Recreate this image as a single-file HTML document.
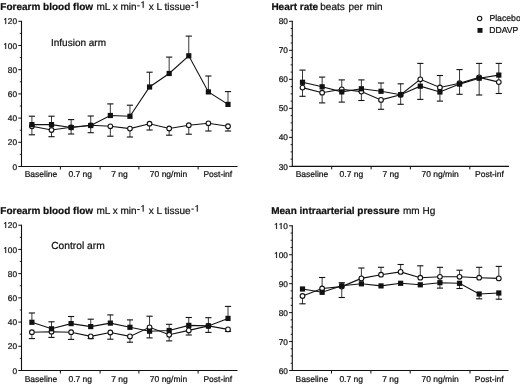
<!DOCTYPE html>
<html><head><meta charset="utf-8"><style>
html,body{margin:0;padding:0;background:#fff;}
body{width:520px;height:385px;overflow:hidden;}
svg{display:block;font-family:"Liberation Sans", sans-serif;filter:blur(0.45px);}
text{fill:#111;text-rendering:geometricPrecision;stroke:#111;stroke-width:0.22px;}
</style></head><body>
<svg width="520" height="385" viewBox="0 0 520 385">
<rect width="520" height="385" fill="#fff"/>
<line x1="21.50" y1="20.80" x2="21.50" y2="167.00" stroke="#111" stroke-width="1.1"/>
<line x1="21.00" y1="166.50" x2="237.50" y2="166.50" stroke="#111" stroke-width="1.1"/>
<line x1="18.30" y1="166.50" x2="21.50" y2="166.50" stroke="#111" stroke-width="1.0"/>
<text transform="translate(12.49,170.00) scale(1,1.0)" font-size="8.3">0</text>
<line x1="19.80" y1="154.40" x2="21.50" y2="154.40" stroke="#111" stroke-width="0.9"/>
<line x1="18.30" y1="142.30" x2="21.50" y2="142.30" stroke="#111" stroke-width="1.0"/>
<text transform="translate(7.87,145.00) scale(1,1.0)" font-size="8.3">2</text>
<text transform="translate(12.49,145.00) scale(1,1.0)" font-size="8.3">0</text>
<line x1="19.80" y1="130.20" x2="21.50" y2="130.20" stroke="#111" stroke-width="0.9"/>
<line x1="18.30" y1="118.10" x2="21.50" y2="118.10" stroke="#111" stroke-width="1.0"/>
<text transform="translate(7.87,121.00) scale(1,1.0)" font-size="8.3">4</text>
<text transform="translate(12.49,121.00) scale(1,1.0)" font-size="8.3">0</text>
<line x1="19.80" y1="106.00" x2="21.50" y2="106.00" stroke="#111" stroke-width="0.9"/>
<line x1="18.30" y1="93.90" x2="21.50" y2="93.90" stroke="#111" stroke-width="1.0"/>
<text transform="translate(7.87,97.00) scale(1,1.0)" font-size="8.3">6</text>
<text transform="translate(12.49,97.00) scale(1,1.0)" font-size="8.3">0</text>
<line x1="19.80" y1="81.80" x2="21.50" y2="81.80" stroke="#111" stroke-width="0.9"/>
<line x1="18.30" y1="69.70" x2="21.50" y2="69.70" stroke="#111" stroke-width="1.0"/>
<text transform="translate(7.87,73.00) scale(1,1.0)" font-size="8.3">8</text>
<text transform="translate(12.49,73.00) scale(1,1.0)" font-size="8.3">0</text>
<line x1="19.80" y1="57.60" x2="21.50" y2="57.60" stroke="#111" stroke-width="0.9"/>
<line x1="18.30" y1="45.50" x2="21.50" y2="45.50" stroke="#111" stroke-width="1.0"/>
<path transform="translate(3.26,49.00) scale(8.3,8.300)" d="M0.345 0L0.345 -0.716L0.272 -0.716C0.25 -0.645 0.18 -0.6 0.09 -0.592L0.09 -0.528C0.16 -0.532 0.22 -0.555 0.25 -0.585L0.25 0Z" fill="#111" stroke="#111" stroke-width="0.0265"/>
<text transform="translate(7.87,49.00) scale(1,1.0)" font-size="8.3">0</text>
<text transform="translate(12.49,49.00) scale(1,1.0)" font-size="8.3">0</text>
<line x1="19.80" y1="33.40" x2="21.50" y2="33.40" stroke="#111" stroke-width="0.9"/>
<line x1="18.30" y1="21.30" x2="21.50" y2="21.30" stroke="#111" stroke-width="1.0"/>
<path transform="translate(3.26,24.00) scale(8.3,8.300)" d="M0.345 0L0.345 -0.716L0.272 -0.716C0.25 -0.645 0.18 -0.6 0.09 -0.592L0.09 -0.528C0.16 -0.532 0.22 -0.555 0.25 -0.585L0.25 0Z" fill="#111" stroke="#111" stroke-width="0.0265"/>
<text transform="translate(7.87,24.00) scale(1,1.0)" font-size="8.3">2</text>
<text transform="translate(12.49,24.00) scale(1,1.0)" font-size="8.3">0</text>
<line x1="60.40" y1="166.50" x2="60.40" y2="169.50" stroke="#111" stroke-width="1.0"/>
<line x1="100.10" y1="166.50" x2="100.10" y2="169.50" stroke="#111" stroke-width="1.0"/>
<line x1="138.90" y1="166.50" x2="138.90" y2="169.50" stroke="#111" stroke-width="1.0"/>
<line x1="198.10" y1="166.50" x2="198.10" y2="169.50" stroke="#111" stroke-width="1.0"/>
<text x="40.95" y="177.20" font-size="8.5" font-weight="normal" text-anchor="middle" >Baseline</text>
<text x="80.25" y="177.20" font-size="8.5" font-weight="normal" text-anchor="middle" >0.7 ng</text>
<text x="119.50" y="177.20" font-size="8.5" font-weight="normal" text-anchor="middle" >7 ng</text>
<text x="168.50" y="177.20" font-size="8.5" font-weight="normal" text-anchor="middle" >70 ng/min</text>
<text x="217.80" y="177.20" font-size="8.5" font-weight="normal" text-anchor="middle" >Post-inf</text>
<line x1="31.90" y1="116.20" x2="31.90" y2="134.80" stroke="#222" stroke-width="0.9"/>
<line x1="28.80" y1="116.20" x2="35.00" y2="116.20" stroke="#111" stroke-width="1.1"/>
<line x1="28.80" y1="134.80" x2="35.00" y2="134.80" stroke="#111" stroke-width="1.1"/>
<line x1="51.51" y1="116.20" x2="51.51" y2="124.60" stroke="#222" stroke-width="0.9"/>
<line x1="51.51" y1="130.00" x2="51.51" y2="136.70" stroke="#222" stroke-width="0.9"/>
<line x1="48.41" y1="136.70" x2="54.61" y2="136.70" stroke="#111" stroke-width="1.1"/>
<line x1="48.41" y1="116.20" x2="54.61" y2="116.20" stroke="#111" stroke-width="1.1"/>
<line x1="71.12" y1="119.60" x2="71.12" y2="134.00" stroke="#222" stroke-width="0.9"/>
<line x1="68.02" y1="134.00" x2="74.22" y2="134.00" stroke="#111" stroke-width="1.1"/>
<line x1="68.02" y1="119.60" x2="74.22" y2="119.60" stroke="#111" stroke-width="1.1"/>
<line x1="90.73" y1="116.00" x2="90.73" y2="132.70" stroke="#222" stroke-width="0.9"/>
<line x1="87.63" y1="132.70" x2="93.83" y2="132.70" stroke="#111" stroke-width="1.1"/>
<line x1="87.63" y1="116.00" x2="93.83" y2="116.00" stroke="#111" stroke-width="1.1"/>
<line x1="110.34" y1="103.90" x2="110.34" y2="115.50" stroke="#222" stroke-width="0.9"/>
<line x1="110.34" y1="126.30" x2="110.34" y2="136.20" stroke="#222" stroke-width="0.9"/>
<line x1="107.24" y1="136.20" x2="113.44" y2="136.20" stroke="#111" stroke-width="1.1"/>
<line x1="107.24" y1="103.90" x2="113.44" y2="103.90" stroke="#111" stroke-width="1.1"/>
<line x1="129.95" y1="105.20" x2="129.95" y2="116.30" stroke="#222" stroke-width="0.9"/>
<line x1="129.95" y1="128.60" x2="129.95" y2="137.00" stroke="#222" stroke-width="0.9"/>
<line x1="126.85" y1="105.20" x2="133.05" y2="105.20" stroke="#111" stroke-width="1.1"/>
<line x1="126.85" y1="137.00" x2="133.05" y2="137.00" stroke="#111" stroke-width="1.1"/>
<line x1="149.56" y1="72.20" x2="149.56" y2="87.00" stroke="#222" stroke-width="0.9"/>
<line x1="149.56" y1="123.70" x2="149.56" y2="130.00" stroke="#222" stroke-width="0.9"/>
<line x1="146.46" y1="72.20" x2="152.66" y2="72.20" stroke="#111" stroke-width="1.1"/>
<line x1="146.46" y1="130.00" x2="152.66" y2="130.00" stroke="#111" stroke-width="1.1"/>
<line x1="169.17" y1="57.10" x2="169.17" y2="73.50" stroke="#222" stroke-width="0.9"/>
<line x1="169.17" y1="128.50" x2="169.17" y2="135.20" stroke="#222" stroke-width="0.9"/>
<line x1="166.07" y1="57.10" x2="172.27" y2="57.10" stroke="#111" stroke-width="1.1"/>
<line x1="166.07" y1="135.20" x2="172.27" y2="135.20" stroke="#111" stroke-width="1.1"/>
<line x1="188.78" y1="36.10" x2="188.78" y2="55.80" stroke="#222" stroke-width="0.9"/>
<line x1="188.78" y1="125.20" x2="188.78" y2="134.20" stroke="#222" stroke-width="0.9"/>
<line x1="185.68" y1="36.10" x2="191.88" y2="36.10" stroke="#111" stroke-width="1.1"/>
<line x1="185.68" y1="134.20" x2="191.88" y2="134.20" stroke="#111" stroke-width="1.1"/>
<line x1="208.39" y1="76.00" x2="208.39" y2="91.90" stroke="#222" stroke-width="0.9"/>
<line x1="208.39" y1="123.30" x2="208.39" y2="131.00" stroke="#222" stroke-width="0.9"/>
<line x1="205.29" y1="131.00" x2="211.49" y2="131.00" stroke="#111" stroke-width="1.1"/>
<line x1="205.29" y1="76.00" x2="211.49" y2="76.00" stroke="#111" stroke-width="1.1"/>
<line x1="228.00" y1="91.60" x2="228.00" y2="104.40" stroke="#222" stroke-width="0.9"/>
<line x1="228.00" y1="126.20" x2="228.00" y2="131.00" stroke="#222" stroke-width="0.9"/>
<line x1="224.90" y1="91.60" x2="231.10" y2="91.60" stroke="#111" stroke-width="1.1"/>
<line x1="224.90" y1="131.00" x2="231.10" y2="131.00" stroke="#111" stroke-width="1.1"/>
<polyline points="31.90,126.30 51.51,130.00 71.12,127.30 90.73,125.30 110.34,126.30 129.95,128.60 149.56,123.70 169.17,128.50 188.78,125.20 208.39,123.30 228.00,126.20" fill="none" stroke="#111" stroke-width="1.1"/>
<polyline points="31.90,124.60 51.51,124.60 71.12,127.50 90.73,125.50 110.34,115.50 129.95,116.30 149.56,87.00 169.17,73.50 188.78,55.80 208.39,91.90 228.00,104.40" fill="none" stroke="#111" stroke-width="1.1"/>
<circle cx="31.90" cy="126.30" r="2.35" fill="#fff" stroke="#111" stroke-width="1.1"/>
<circle cx="51.51" cy="130.00" r="2.35" fill="#fff" stroke="#111" stroke-width="1.1"/>
<circle cx="71.12" cy="127.30" r="2.35" fill="#fff" stroke="#111" stroke-width="1.1"/>
<circle cx="90.73" cy="125.30" r="2.35" fill="#fff" stroke="#111" stroke-width="1.1"/>
<circle cx="110.34" cy="126.30" r="2.35" fill="#fff" stroke="#111" stroke-width="1.1"/>
<circle cx="129.95" cy="128.60" r="2.35" fill="#fff" stroke="#111" stroke-width="1.1"/>
<circle cx="149.56" cy="123.70" r="2.35" fill="#fff" stroke="#111" stroke-width="1.1"/>
<circle cx="169.17" cy="128.50" r="2.35" fill="#fff" stroke="#111" stroke-width="1.1"/>
<circle cx="188.78" cy="125.20" r="2.35" fill="#fff" stroke="#111" stroke-width="1.1"/>
<circle cx="208.39" cy="123.30" r="2.35" fill="#fff" stroke="#111" stroke-width="1.1"/>
<circle cx="228.00" cy="126.20" r="2.35" fill="#fff" stroke="#111" stroke-width="1.1"/>
<rect x="29.30" y="122.00" width="5.2" height="5.2" fill="#111"/>
<rect x="48.91" y="122.00" width="5.2" height="5.2" fill="#111"/>
<rect x="68.52" y="124.90" width="5.2" height="5.2" fill="#111"/>
<rect x="88.13" y="122.90" width="5.2" height="5.2" fill="#111"/>
<rect x="107.74" y="112.90" width="5.2" height="5.2" fill="#111"/>
<rect x="127.35" y="113.70" width="5.2" height="5.2" fill="#111"/>
<rect x="146.96" y="84.40" width="5.2" height="5.2" fill="#111"/>
<rect x="166.57" y="70.90" width="5.2" height="5.2" fill="#111"/>
<rect x="186.18" y="53.20" width="5.2" height="5.2" fill="#111"/>
<rect x="205.79" y="89.30" width="5.2" height="5.2" fill="#111"/>
<rect x="225.40" y="101.80" width="5.2" height="5.2" fill="#111"/>
<line x1="292.30" y1="20.80" x2="292.30" y2="166.90" stroke="#111" stroke-width="1.1"/>
<line x1="291.80" y1="166.40" x2="509.00" y2="166.40" stroke="#111" stroke-width="1.1"/>
<line x1="289.10" y1="166.40" x2="292.30" y2="166.40" stroke="#111" stroke-width="1.0"/>
<text transform="translate(278.67,170.00) scale(1,1.0)" font-size="8.3">3</text>
<text transform="translate(283.29,170.00) scale(1,1.0)" font-size="8.3">0</text>
<line x1="290.60" y1="159.15" x2="292.30" y2="159.15" stroke="#111" stroke-width="0.9"/>
<line x1="290.60" y1="151.89" x2="292.30" y2="151.89" stroke="#111" stroke-width="0.9"/>
<line x1="290.60" y1="144.64" x2="292.30" y2="144.64" stroke="#111" stroke-width="0.9"/>
<line x1="289.10" y1="137.38" x2="292.30" y2="137.38" stroke="#111" stroke-width="1.0"/>
<text transform="translate(278.67,140.00) scale(1,1.0)" font-size="8.3">4</text>
<text transform="translate(283.29,140.00) scale(1,1.0)" font-size="8.3">0</text>
<line x1="290.60" y1="130.12" x2="292.30" y2="130.12" stroke="#111" stroke-width="0.9"/>
<line x1="290.60" y1="122.87" x2="292.30" y2="122.87" stroke="#111" stroke-width="0.9"/>
<line x1="290.60" y1="115.62" x2="292.30" y2="115.62" stroke="#111" stroke-width="0.9"/>
<line x1="289.10" y1="108.36" x2="292.30" y2="108.36" stroke="#111" stroke-width="1.0"/>
<text transform="translate(278.67,111.00) scale(1,1.0)" font-size="8.3">5</text>
<text transform="translate(283.29,111.00) scale(1,1.0)" font-size="8.3">0</text>
<line x1="290.60" y1="101.11" x2="292.30" y2="101.11" stroke="#111" stroke-width="0.9"/>
<line x1="290.60" y1="93.85" x2="292.30" y2="93.85" stroke="#111" stroke-width="0.9"/>
<line x1="290.60" y1="86.60" x2="292.30" y2="86.60" stroke="#111" stroke-width="0.9"/>
<line x1="289.10" y1="79.34" x2="292.30" y2="79.34" stroke="#111" stroke-width="1.0"/>
<text transform="translate(278.67,82.00) scale(1,1.0)" font-size="8.3">6</text>
<text transform="translate(283.29,82.00) scale(1,1.0)" font-size="8.3">0</text>
<line x1="290.60" y1="72.09" x2="292.30" y2="72.09" stroke="#111" stroke-width="0.9"/>
<line x1="290.60" y1="64.83" x2="292.30" y2="64.83" stroke="#111" stroke-width="0.9"/>
<line x1="290.60" y1="57.58" x2="292.30" y2="57.58" stroke="#111" stroke-width="0.9"/>
<line x1="289.10" y1="50.32" x2="292.30" y2="50.32" stroke="#111" stroke-width="1.0"/>
<text transform="translate(278.67,53.00) scale(1,1.0)" font-size="8.3">7</text>
<text transform="translate(283.29,53.00) scale(1,1.0)" font-size="8.3">0</text>
<line x1="290.60" y1="43.07" x2="292.30" y2="43.07" stroke="#111" stroke-width="0.9"/>
<line x1="290.60" y1="35.81" x2="292.30" y2="35.81" stroke="#111" stroke-width="0.9"/>
<line x1="290.60" y1="28.56" x2="292.30" y2="28.56" stroke="#111" stroke-width="0.9"/>
<line x1="289.10" y1="21.30" x2="292.30" y2="21.30" stroke="#111" stroke-width="1.0"/>
<text transform="translate(278.67,24.00) scale(1,1.0)" font-size="8.3">8</text>
<text transform="translate(283.29,24.00) scale(1,1.0)" font-size="8.3">0</text>
<line x1="331.70" y1="166.40" x2="331.70" y2="169.40" stroke="#111" stroke-width="1.0"/>
<line x1="371.10" y1="166.40" x2="371.10" y2="169.40" stroke="#111" stroke-width="1.0"/>
<line x1="410.40" y1="166.40" x2="410.40" y2="169.40" stroke="#111" stroke-width="1.0"/>
<line x1="469.80" y1="166.40" x2="469.80" y2="169.40" stroke="#111" stroke-width="1.0"/>
<text x="312.00" y="177.10" font-size="8.5" font-weight="normal" text-anchor="middle" >Baseline</text>
<text x="351.40" y="177.10" font-size="8.5" font-weight="normal" text-anchor="middle" >0.7 ng</text>
<text x="390.75" y="177.10" font-size="8.5" font-weight="normal" text-anchor="middle" >7 ng</text>
<text x="440.10" y="177.10" font-size="8.5" font-weight="normal" text-anchor="middle" >70 ng/min</text>
<text x="489.40" y="177.10" font-size="8.5" font-weight="normal" text-anchor="middle" >Post-inf</text>
<line x1="302.50" y1="70.10" x2="302.50" y2="96.30" stroke="#222" stroke-width="0.9"/>
<line x1="299.40" y1="96.30" x2="305.60" y2="96.30" stroke="#111" stroke-width="1.1"/>
<line x1="299.40" y1="70.10" x2="305.60" y2="70.10" stroke="#111" stroke-width="1.1"/>
<line x1="322.13" y1="77.10" x2="322.13" y2="102.90" stroke="#222" stroke-width="0.9"/>
<line x1="319.03" y1="77.10" x2="325.23" y2="77.10" stroke="#111" stroke-width="1.1"/>
<line x1="319.03" y1="102.90" x2="325.23" y2="102.90" stroke="#111" stroke-width="1.1"/>
<line x1="341.76" y1="79.90" x2="341.76" y2="102.10" stroke="#222" stroke-width="0.9"/>
<line x1="338.66" y1="102.10" x2="344.86" y2="102.10" stroke="#111" stroke-width="1.1"/>
<line x1="338.66" y1="79.90" x2="344.86" y2="79.90" stroke="#111" stroke-width="1.1"/>
<line x1="361.39" y1="79.90" x2="361.39" y2="100.50" stroke="#222" stroke-width="0.9"/>
<line x1="358.29" y1="100.50" x2="364.49" y2="100.50" stroke="#111" stroke-width="1.1"/>
<line x1="358.29" y1="79.90" x2="364.49" y2="79.90" stroke="#111" stroke-width="1.1"/>
<line x1="381.02" y1="83.00" x2="381.02" y2="91.30" stroke="#222" stroke-width="0.9"/>
<line x1="381.02" y1="99.90" x2="381.02" y2="109.30" stroke="#222" stroke-width="0.9"/>
<line x1="377.92" y1="83.00" x2="384.12" y2="83.00" stroke="#111" stroke-width="1.1"/>
<line x1="377.92" y1="109.30" x2="384.12" y2="109.30" stroke="#111" stroke-width="1.1"/>
<line x1="400.65" y1="83.80" x2="400.65" y2="104.30" stroke="#222" stroke-width="0.9"/>
<line x1="397.55" y1="104.30" x2="403.75" y2="104.30" stroke="#111" stroke-width="1.1"/>
<line x1="397.55" y1="83.80" x2="403.75" y2="83.80" stroke="#111" stroke-width="1.1"/>
<line x1="420.28" y1="63.40" x2="420.28" y2="99.40" stroke="#222" stroke-width="0.9"/>
<line x1="417.18" y1="99.40" x2="423.38" y2="99.40" stroke="#111" stroke-width="1.1"/>
<line x1="417.18" y1="63.40" x2="423.38" y2="63.40" stroke="#111" stroke-width="1.1"/>
<line x1="439.91" y1="75.50" x2="439.91" y2="101.10" stroke="#222" stroke-width="0.9"/>
<line x1="436.81" y1="75.50" x2="443.01" y2="75.50" stroke="#111" stroke-width="1.1"/>
<line x1="436.81" y1="101.10" x2="443.01" y2="101.10" stroke="#111" stroke-width="1.1"/>
<line x1="459.54" y1="69.60" x2="459.54" y2="94.30" stroke="#222" stroke-width="0.9"/>
<line x1="456.44" y1="69.60" x2="462.64" y2="69.60" stroke="#111" stroke-width="1.1"/>
<line x1="456.44" y1="94.30" x2="462.64" y2="94.30" stroke="#111" stroke-width="1.1"/>
<line x1="479.17" y1="63.40" x2="479.17" y2="95.00" stroke="#222" stroke-width="0.9"/>
<line x1="476.07" y1="95.00" x2="482.27" y2="95.00" stroke="#111" stroke-width="1.1"/>
<line x1="476.07" y1="63.40" x2="482.27" y2="63.40" stroke="#111" stroke-width="1.1"/>
<line x1="498.80" y1="63.40" x2="498.80" y2="93.50" stroke="#222" stroke-width="0.9"/>
<line x1="495.70" y1="93.50" x2="501.90" y2="93.50" stroke="#111" stroke-width="1.1"/>
<line x1="495.70" y1="63.40" x2="501.90" y2="63.40" stroke="#111" stroke-width="1.1"/>
<polyline points="302.50,87.60 322.13,92.70 341.76,89.30 361.39,91.60 381.02,99.90 400.65,94.70 420.28,79.30 439.91,87.50 459.54,83.20 479.17,77.40 498.80,82.10" fill="none" stroke="#111" stroke-width="1.1"/>
<polyline points="302.50,82.30 322.13,86.80 341.76,91.90 361.39,88.80 381.02,91.30 400.65,94.70 420.28,86.20 439.91,92.00 459.54,84.10 479.17,78.20 498.80,75.10" fill="none" stroke="#111" stroke-width="1.1"/>
<circle cx="302.50" cy="87.60" r="2.35" fill="#fff" stroke="#111" stroke-width="1.1"/>
<circle cx="322.13" cy="92.70" r="2.35" fill="#fff" stroke="#111" stroke-width="1.1"/>
<circle cx="341.76" cy="89.30" r="2.35" fill="#fff" stroke="#111" stroke-width="1.1"/>
<circle cx="361.39" cy="91.60" r="2.35" fill="#fff" stroke="#111" stroke-width="1.1"/>
<circle cx="381.02" cy="99.90" r="2.35" fill="#fff" stroke="#111" stroke-width="1.1"/>
<circle cx="400.65" cy="94.70" r="2.35" fill="#fff" stroke="#111" stroke-width="1.1"/>
<circle cx="420.28" cy="79.30" r="2.35" fill="#fff" stroke="#111" stroke-width="1.1"/>
<circle cx="439.91" cy="87.50" r="2.35" fill="#fff" stroke="#111" stroke-width="1.1"/>
<circle cx="459.54" cy="83.20" r="2.35" fill="#fff" stroke="#111" stroke-width="1.1"/>
<circle cx="479.17" cy="77.40" r="2.35" fill="#fff" stroke="#111" stroke-width="1.1"/>
<circle cx="498.80" cy="82.10" r="2.35" fill="#fff" stroke="#111" stroke-width="1.1"/>
<rect x="299.90" y="79.70" width="5.2" height="5.2" fill="#111"/>
<rect x="319.53" y="84.20" width="5.2" height="5.2" fill="#111"/>
<rect x="339.16" y="89.30" width="5.2" height="5.2" fill="#111"/>
<rect x="358.79" y="86.20" width="5.2" height="5.2" fill="#111"/>
<rect x="378.42" y="88.70" width="5.2" height="5.2" fill="#111"/>
<rect x="398.05" y="92.10" width="5.2" height="5.2" fill="#111"/>
<rect x="417.68" y="83.60" width="5.2" height="5.2" fill="#111"/>
<rect x="437.31" y="89.40" width="5.2" height="5.2" fill="#111"/>
<rect x="456.94" y="81.50" width="5.2" height="5.2" fill="#111"/>
<rect x="476.57" y="75.60" width="5.2" height="5.2" fill="#111"/>
<rect x="496.20" y="72.50" width="5.2" height="5.2" fill="#111"/>
<line x1="21.50" y1="224.70" x2="21.50" y2="371.00" stroke="#111" stroke-width="1.1"/>
<line x1="21.00" y1="370.50" x2="237.50" y2="370.50" stroke="#111" stroke-width="1.1"/>
<line x1="18.30" y1="370.50" x2="21.50" y2="370.50" stroke="#111" stroke-width="1.0"/>
<text transform="translate(12.49,374.00) scale(1,1.0)" font-size="8.3">0</text>
<line x1="19.80" y1="358.39" x2="21.50" y2="358.39" stroke="#111" stroke-width="0.9"/>
<line x1="18.30" y1="346.28" x2="21.50" y2="346.28" stroke="#111" stroke-width="1.0"/>
<text transform="translate(7.87,349.00) scale(1,1.0)" font-size="8.3">2</text>
<text transform="translate(12.49,349.00) scale(1,1.0)" font-size="8.3">0</text>
<line x1="19.80" y1="334.18" x2="21.50" y2="334.18" stroke="#111" stroke-width="0.9"/>
<line x1="18.30" y1="322.07" x2="21.50" y2="322.07" stroke="#111" stroke-width="1.0"/>
<text transform="translate(7.87,325.00) scale(1,1.0)" font-size="8.3">4</text>
<text transform="translate(12.49,325.00) scale(1,1.0)" font-size="8.3">0</text>
<line x1="19.80" y1="309.96" x2="21.50" y2="309.96" stroke="#111" stroke-width="0.9"/>
<line x1="18.30" y1="297.85" x2="21.50" y2="297.85" stroke="#111" stroke-width="1.0"/>
<text transform="translate(7.87,301.00) scale(1,1.0)" font-size="8.3">6</text>
<text transform="translate(12.49,301.00) scale(1,1.0)" font-size="8.3">0</text>
<line x1="19.80" y1="285.74" x2="21.50" y2="285.74" stroke="#111" stroke-width="0.9"/>
<line x1="18.30" y1="273.63" x2="21.50" y2="273.63" stroke="#111" stroke-width="1.0"/>
<text transform="translate(7.87,277.00) scale(1,1.0)" font-size="8.3">8</text>
<text transform="translate(12.49,277.00) scale(1,1.0)" font-size="8.3">0</text>
<line x1="19.80" y1="261.52" x2="21.50" y2="261.52" stroke="#111" stroke-width="0.9"/>
<line x1="18.30" y1="249.42" x2="21.50" y2="249.42" stroke="#111" stroke-width="1.0"/>
<path transform="translate(3.26,253.00) scale(8.3,8.300)" d="M0.345 0L0.345 -0.716L0.272 -0.716C0.25 -0.645 0.18 -0.6 0.09 -0.592L0.09 -0.528C0.16 -0.532 0.22 -0.555 0.25 -0.585L0.25 0Z" fill="#111" stroke="#111" stroke-width="0.0265"/>
<text transform="translate(7.87,253.00) scale(1,1.0)" font-size="8.3">0</text>
<text transform="translate(12.49,253.00) scale(1,1.0)" font-size="8.3">0</text>
<line x1="19.80" y1="237.31" x2="21.50" y2="237.31" stroke="#111" stroke-width="0.9"/>
<line x1="18.30" y1="225.20" x2="21.50" y2="225.20" stroke="#111" stroke-width="1.0"/>
<path transform="translate(3.26,228.00) scale(8.3,8.300)" d="M0.345 0L0.345 -0.716L0.272 -0.716C0.25 -0.645 0.18 -0.6 0.09 -0.592L0.09 -0.528C0.16 -0.532 0.22 -0.555 0.25 -0.585L0.25 0Z" fill="#111" stroke="#111" stroke-width="0.0265"/>
<text transform="translate(7.87,228.00) scale(1,1.0)" font-size="8.3">2</text>
<text transform="translate(12.49,228.00) scale(1,1.0)" font-size="8.3">0</text>
<line x1="60.40" y1="370.50" x2="60.40" y2="373.50" stroke="#111" stroke-width="1.0"/>
<line x1="100.10" y1="370.50" x2="100.10" y2="373.50" stroke="#111" stroke-width="1.0"/>
<line x1="138.90" y1="370.50" x2="138.90" y2="373.50" stroke="#111" stroke-width="1.0"/>
<line x1="198.10" y1="370.50" x2="198.10" y2="373.50" stroke="#111" stroke-width="1.0"/>
<text x="40.95" y="381.90" font-size="8.5" font-weight="normal" text-anchor="middle" >Baseline</text>
<text x="80.25" y="381.90" font-size="8.5" font-weight="normal" text-anchor="middle" >0.7 ng</text>
<text x="119.50" y="381.90" font-size="8.5" font-weight="normal" text-anchor="middle" >7 ng</text>
<text x="168.50" y="381.90" font-size="8.5" font-weight="normal" text-anchor="middle" >70 ng/min</text>
<text x="217.80" y="381.90" font-size="8.5" font-weight="normal" text-anchor="middle" >Post-inf</text>
<line x1="31.90" y1="313.00" x2="31.90" y2="322.30" stroke="#222" stroke-width="0.9"/>
<line x1="31.90" y1="332.20" x2="31.90" y2="338.60" stroke="#222" stroke-width="0.9"/>
<line x1="28.80" y1="313.00" x2="35.00" y2="313.00" stroke="#111" stroke-width="1.1"/>
<line x1="28.80" y1="338.60" x2="35.00" y2="338.60" stroke="#111" stroke-width="1.1"/>
<line x1="51.51" y1="321.80" x2="51.51" y2="328.80" stroke="#222" stroke-width="0.9"/>
<line x1="51.51" y1="331.80" x2="51.51" y2="337.40" stroke="#222" stroke-width="0.9"/>
<line x1="48.41" y1="337.40" x2="54.61" y2="337.40" stroke="#111" stroke-width="1.1"/>
<line x1="48.41" y1="321.80" x2="54.61" y2="321.80" stroke="#111" stroke-width="1.1"/>
<line x1="71.12" y1="316.50" x2="71.12" y2="323.60" stroke="#222" stroke-width="0.9"/>
<line x1="71.12" y1="332.20" x2="71.12" y2="339.40" stroke="#222" stroke-width="0.9"/>
<line x1="68.02" y1="339.40" x2="74.22" y2="339.40" stroke="#111" stroke-width="1.1"/>
<line x1="68.02" y1="316.50" x2="74.22" y2="316.50" stroke="#111" stroke-width="1.1"/>
<line x1="90.73" y1="319.20" x2="90.73" y2="326.60" stroke="#222" stroke-width="0.9"/>
<line x1="90.73" y1="336.40" x2="90.73" y2="338.60" stroke="#222" stroke-width="0.9"/>
<line x1="87.63" y1="338.60" x2="93.83" y2="338.60" stroke="#111" stroke-width="1.1"/>
<line x1="87.63" y1="319.20" x2="93.83" y2="319.20" stroke="#111" stroke-width="1.1"/>
<line x1="110.34" y1="314.90" x2="110.34" y2="323.10" stroke="#222" stroke-width="0.9"/>
<line x1="110.34" y1="332.50" x2="110.34" y2="339.20" stroke="#222" stroke-width="0.9"/>
<line x1="107.24" y1="314.90" x2="113.44" y2="314.90" stroke="#111" stroke-width="1.1"/>
<line x1="107.24" y1="339.20" x2="113.44" y2="339.20" stroke="#111" stroke-width="1.1"/>
<line x1="129.95" y1="319.90" x2="129.95" y2="327.30" stroke="#222" stroke-width="0.9"/>
<line x1="129.95" y1="336.40" x2="129.95" y2="342.20" stroke="#222" stroke-width="0.9"/>
<line x1="126.85" y1="342.20" x2="133.05" y2="342.20" stroke="#111" stroke-width="1.1"/>
<line x1="126.85" y1="319.90" x2="133.05" y2="319.90" stroke="#111" stroke-width="1.1"/>
<line x1="149.56" y1="316.20" x2="149.56" y2="337.90" stroke="#222" stroke-width="0.9"/>
<line x1="146.46" y1="337.90" x2="152.66" y2="337.90" stroke="#111" stroke-width="1.1"/>
<line x1="146.46" y1="316.20" x2="152.66" y2="316.20" stroke="#111" stroke-width="1.1"/>
<line x1="169.17" y1="324.30" x2="169.17" y2="340.90" stroke="#222" stroke-width="0.9"/>
<line x1="166.07" y1="324.30" x2="172.27" y2="324.30" stroke="#111" stroke-width="1.1"/>
<line x1="166.07" y1="340.90" x2="172.27" y2="340.90" stroke="#111" stroke-width="1.1"/>
<line x1="188.78" y1="317.50" x2="188.78" y2="335.00" stroke="#222" stroke-width="0.9"/>
<line x1="185.68" y1="317.50" x2="191.88" y2="317.50" stroke="#111" stroke-width="1.1"/>
<line x1="185.68" y1="335.00" x2="191.88" y2="335.00" stroke="#111" stroke-width="1.1"/>
<line x1="208.39" y1="317.70" x2="208.39" y2="332.40" stroke="#222" stroke-width="0.9"/>
<line x1="205.29" y1="332.40" x2="211.49" y2="332.40" stroke="#111" stroke-width="1.1"/>
<line x1="205.29" y1="317.70" x2="211.49" y2="317.70" stroke="#111" stroke-width="1.1"/>
<line x1="228.00" y1="306.40" x2="228.00" y2="318.40" stroke="#222" stroke-width="0.9"/>
<line x1="228.00" y1="329.40" x2="228.00" y2="331.40" stroke="#222" stroke-width="0.9"/>
<line x1="224.90" y1="306.40" x2="231.10" y2="306.40" stroke="#111" stroke-width="1.1"/>
<line x1="224.90" y1="331.40" x2="231.10" y2="331.40" stroke="#111" stroke-width="1.1"/>
<polyline points="31.90,332.20 51.51,331.80 71.12,332.20 90.73,336.40 110.34,332.50 129.95,336.40 149.56,327.30 169.17,334.80 188.78,330.40 208.39,325.90 228.00,329.40" fill="none" stroke="#111" stroke-width="1.1"/>
<polyline points="31.90,322.30 51.51,328.80 71.12,323.60 90.73,326.60 110.34,323.10 129.95,327.30 149.56,331.20 169.17,330.50 188.78,325.40 208.39,325.90 228.00,318.40" fill="none" stroke="#111" stroke-width="1.1"/>
<circle cx="31.90" cy="332.20" r="2.35" fill="#fff" stroke="#111" stroke-width="1.1"/>
<circle cx="51.51" cy="331.80" r="2.35" fill="#fff" stroke="#111" stroke-width="1.1"/>
<circle cx="71.12" cy="332.20" r="2.35" fill="#fff" stroke="#111" stroke-width="1.1"/>
<circle cx="90.73" cy="336.40" r="2.35" fill="#fff" stroke="#111" stroke-width="1.1"/>
<circle cx="110.34" cy="332.50" r="2.35" fill="#fff" stroke="#111" stroke-width="1.1"/>
<circle cx="129.95" cy="336.40" r="2.35" fill="#fff" stroke="#111" stroke-width="1.1"/>
<circle cx="149.56" cy="327.30" r="2.35" fill="#fff" stroke="#111" stroke-width="1.1"/>
<circle cx="169.17" cy="334.80" r="2.35" fill="#fff" stroke="#111" stroke-width="1.1"/>
<circle cx="188.78" cy="330.40" r="2.35" fill="#fff" stroke="#111" stroke-width="1.1"/>
<circle cx="208.39" cy="325.90" r="2.35" fill="#fff" stroke="#111" stroke-width="1.1"/>
<circle cx="228.00" cy="329.40" r="2.35" fill="#fff" stroke="#111" stroke-width="1.1"/>
<rect x="29.30" y="319.70" width="5.2" height="5.2" fill="#111"/>
<rect x="48.91" y="326.20" width="5.2" height="5.2" fill="#111"/>
<rect x="68.52" y="321.00" width="5.2" height="5.2" fill="#111"/>
<rect x="88.13" y="324.00" width="5.2" height="5.2" fill="#111"/>
<rect x="107.74" y="320.50" width="5.2" height="5.2" fill="#111"/>
<rect x="127.35" y="324.70" width="5.2" height="5.2" fill="#111"/>
<rect x="146.96" y="328.60" width="5.2" height="5.2" fill="#111"/>
<rect x="166.57" y="327.90" width="5.2" height="5.2" fill="#111"/>
<rect x="186.18" y="322.80" width="5.2" height="5.2" fill="#111"/>
<rect x="205.79" y="323.30" width="5.2" height="5.2" fill="#111"/>
<rect x="225.40" y="315.80" width="5.2" height="5.2" fill="#111"/>
<line x1="292.30" y1="225.30" x2="292.30" y2="371.00" stroke="#111" stroke-width="1.1"/>
<line x1="291.80" y1="370.50" x2="508.50" y2="370.50" stroke="#111" stroke-width="1.1"/>
<line x1="289.10" y1="370.50" x2="292.30" y2="370.50" stroke="#111" stroke-width="1.0"/>
<text transform="translate(278.67,374.00) scale(1,1.0)" font-size="8.3">6</text>
<text transform="translate(283.29,374.00) scale(1,1.0)" font-size="8.3">0</text>
<line x1="290.60" y1="363.26" x2="292.30" y2="363.26" stroke="#111" stroke-width="0.9"/>
<line x1="290.60" y1="356.03" x2="292.30" y2="356.03" stroke="#111" stroke-width="0.9"/>
<line x1="290.60" y1="348.80" x2="292.30" y2="348.80" stroke="#111" stroke-width="0.9"/>
<line x1="289.10" y1="341.56" x2="292.30" y2="341.56" stroke="#111" stroke-width="1.0"/>
<text transform="translate(278.67,345.00) scale(1,1.0)" font-size="8.3">7</text>
<text transform="translate(283.29,345.00) scale(1,1.0)" font-size="8.3">0</text>
<line x1="290.60" y1="334.32" x2="292.30" y2="334.32" stroke="#111" stroke-width="0.9"/>
<line x1="290.60" y1="327.09" x2="292.30" y2="327.09" stroke="#111" stroke-width="0.9"/>
<line x1="290.60" y1="319.86" x2="292.30" y2="319.86" stroke="#111" stroke-width="0.9"/>
<line x1="289.10" y1="312.62" x2="292.30" y2="312.62" stroke="#111" stroke-width="1.0"/>
<text transform="translate(278.67,316.00) scale(1,1.0)" font-size="8.3">8</text>
<text transform="translate(283.29,316.00) scale(1,1.0)" font-size="8.3">0</text>
<line x1="290.60" y1="305.38" x2="292.30" y2="305.38" stroke="#111" stroke-width="0.9"/>
<line x1="290.60" y1="298.15" x2="292.30" y2="298.15" stroke="#111" stroke-width="0.9"/>
<line x1="290.60" y1="290.92" x2="292.30" y2="290.92" stroke="#111" stroke-width="0.9"/>
<line x1="289.10" y1="283.68" x2="292.30" y2="283.68" stroke="#111" stroke-width="1.0"/>
<text transform="translate(278.67,287.00) scale(1,1.0)" font-size="8.3">9</text>
<text transform="translate(283.29,287.00) scale(1,1.0)" font-size="8.3">0</text>
<line x1="290.60" y1="276.44" x2="292.30" y2="276.44" stroke="#111" stroke-width="0.9"/>
<line x1="290.60" y1="269.21" x2="292.30" y2="269.21" stroke="#111" stroke-width="0.9"/>
<line x1="290.60" y1="261.98" x2="292.30" y2="261.98" stroke="#111" stroke-width="0.9"/>
<line x1="289.10" y1="254.74" x2="292.30" y2="254.74" stroke="#111" stroke-width="1.0"/>
<path transform="translate(274.06,258.00) scale(8.3,8.300)" d="M0.345 0L0.345 -0.716L0.272 -0.716C0.25 -0.645 0.18 -0.6 0.09 -0.592L0.09 -0.528C0.16 -0.532 0.22 -0.555 0.25 -0.585L0.25 0Z" fill="#111" stroke="#111" stroke-width="0.0265"/>
<text transform="translate(278.67,258.00) scale(1,1.0)" font-size="8.3">0</text>
<text transform="translate(283.29,258.00) scale(1,1.0)" font-size="8.3">0</text>
<line x1="290.60" y1="247.50" x2="292.30" y2="247.50" stroke="#111" stroke-width="0.9"/>
<line x1="290.60" y1="240.27" x2="292.30" y2="240.27" stroke="#111" stroke-width="0.9"/>
<line x1="290.60" y1="233.04" x2="292.30" y2="233.04" stroke="#111" stroke-width="0.9"/>
<line x1="289.10" y1="225.80" x2="292.30" y2="225.80" stroke="#111" stroke-width="1.0"/>
<path transform="translate(274.06,229.00) scale(8.3,8.300)" d="M0.345 0L0.345 -0.716L0.272 -0.716C0.25 -0.645 0.18 -0.6 0.09 -0.592L0.09 -0.528C0.16 -0.532 0.22 -0.555 0.25 -0.585L0.25 0Z" fill="#111" stroke="#111" stroke-width="0.0265"/>
<path transform="translate(278.67,229.00) scale(8.3,8.300)" d="M0.345 0L0.345 -0.716L0.272 -0.716C0.25 -0.645 0.18 -0.6 0.09 -0.592L0.09 -0.528C0.16 -0.532 0.22 -0.555 0.25 -0.585L0.25 0Z" fill="#111" stroke="#111" stroke-width="0.0265"/>
<text transform="translate(283.29,229.00) scale(1,1.0)" font-size="8.3">0</text>
<line x1="331.50" y1="370.50" x2="331.50" y2="373.50" stroke="#111" stroke-width="1.0"/>
<line x1="370.90" y1="370.50" x2="370.90" y2="373.50" stroke="#111" stroke-width="1.0"/>
<line x1="410.20" y1="370.50" x2="410.20" y2="373.50" stroke="#111" stroke-width="1.0"/>
<line x1="470.00" y1="370.50" x2="470.00" y2="373.50" stroke="#111" stroke-width="1.0"/>
<text x="311.90" y="381.90" font-size="8.5" font-weight="normal" text-anchor="middle" >Baseline</text>
<text x="351.20" y="381.90" font-size="8.5" font-weight="normal" text-anchor="middle" >0.7 ng</text>
<text x="390.55" y="381.90" font-size="8.5" font-weight="normal" text-anchor="middle" >7 ng</text>
<text x="440.10" y="381.90" font-size="8.5" font-weight="normal" text-anchor="middle" >70 ng/min</text>
<text x="489.25" y="381.90" font-size="8.5" font-weight="normal" text-anchor="middle" >Post-inf</text>
<line x1="302.50" y1="296.00" x2="302.50" y2="303.80" stroke="#222" stroke-width="0.9"/>
<line x1="299.40" y1="303.80" x2="305.60" y2="303.80" stroke="#111" stroke-width="1.1"/>
<line x1="322.13" y1="277.50" x2="322.13" y2="288.50" stroke="#222" stroke-width="0.9"/>
<line x1="319.03" y1="277.50" x2="325.23" y2="277.50" stroke="#111" stroke-width="1.1"/>
<line x1="341.76" y1="282.70" x2="341.76" y2="297.50" stroke="#222" stroke-width="0.9"/>
<line x1="338.66" y1="297.50" x2="344.86" y2="297.50" stroke="#111" stroke-width="1.1"/>
<line x1="338.66" y1="282.70" x2="344.86" y2="282.70" stroke="#111" stroke-width="1.1"/>
<line x1="361.39" y1="268.00" x2="361.39" y2="278.40" stroke="#222" stroke-width="0.9"/>
<line x1="358.29" y1="268.00" x2="364.49" y2="268.00" stroke="#111" stroke-width="1.1"/>
<line x1="381.02" y1="267.30" x2="381.02" y2="274.70" stroke="#222" stroke-width="0.9"/>
<line x1="377.92" y1="267.30" x2="384.12" y2="267.30" stroke="#111" stroke-width="1.1"/>
<line x1="400.65" y1="264.50" x2="400.65" y2="271.90" stroke="#222" stroke-width="0.9"/>
<line x1="397.55" y1="264.50" x2="403.75" y2="264.50" stroke="#111" stroke-width="1.1"/>
<line x1="420.28" y1="265.80" x2="420.28" y2="277.70" stroke="#222" stroke-width="0.9"/>
<line x1="417.18" y1="265.80" x2="423.38" y2="265.80" stroke="#111" stroke-width="1.1"/>
<line x1="439.91" y1="267.30" x2="439.91" y2="276.80" stroke="#222" stroke-width="0.9"/>
<line x1="439.91" y1="282.70" x2="439.91" y2="288.10" stroke="#222" stroke-width="0.9"/>
<line x1="436.81" y1="288.10" x2="443.01" y2="288.10" stroke="#111" stroke-width="1.1"/>
<line x1="436.81" y1="267.30" x2="443.01" y2="267.30" stroke="#111" stroke-width="1.1"/>
<line x1="459.54" y1="270.20" x2="459.54" y2="276.80" stroke="#222" stroke-width="0.9"/>
<line x1="459.54" y1="283.30" x2="459.54" y2="288.50" stroke="#222" stroke-width="0.9"/>
<line x1="456.44" y1="288.50" x2="462.64" y2="288.50" stroke="#111" stroke-width="1.1"/>
<line x1="456.44" y1="270.20" x2="462.64" y2="270.20" stroke="#111" stroke-width="1.1"/>
<line x1="479.17" y1="267.30" x2="479.17" y2="277.70" stroke="#222" stroke-width="0.9"/>
<line x1="479.17" y1="294.00" x2="479.17" y2="298.80" stroke="#222" stroke-width="0.9"/>
<line x1="476.07" y1="298.80" x2="482.27" y2="298.80" stroke="#111" stroke-width="1.1"/>
<line x1="476.07" y1="267.30" x2="482.27" y2="267.30" stroke="#111" stroke-width="1.1"/>
<line x1="498.80" y1="266.40" x2="498.80" y2="278.40" stroke="#222" stroke-width="0.9"/>
<line x1="498.80" y1="293.00" x2="498.80" y2="299.20" stroke="#222" stroke-width="0.9"/>
<line x1="495.70" y1="266.40" x2="501.90" y2="266.40" stroke="#111" stroke-width="1.1"/>
<line x1="495.70" y1="299.20" x2="501.90" y2="299.20" stroke="#111" stroke-width="1.1"/>
<polyline points="302.50,296.00 322.13,288.50 341.76,286.60 361.39,278.40 381.02,274.70 400.65,271.90 420.28,277.70 439.91,276.80 459.54,276.80 479.17,277.70 498.80,278.40" fill="none" stroke="#111" stroke-width="1.1"/>
<polyline points="302.50,289.00 322.13,292.30 341.76,285.80 361.39,283.80 381.02,285.90 400.65,283.30 420.28,284.80 439.91,282.70 459.54,283.30 479.17,294.00 498.80,293.00" fill="none" stroke="#111" stroke-width="1.1"/>
<circle cx="302.50" cy="296.00" r="2.35" fill="#fff" stroke="#111" stroke-width="1.1"/>
<circle cx="322.13" cy="288.50" r="2.35" fill="#fff" stroke="#111" stroke-width="1.1"/>
<circle cx="341.76" cy="286.60" r="2.35" fill="#fff" stroke="#111" stroke-width="1.1"/>
<circle cx="361.39" cy="278.40" r="2.35" fill="#fff" stroke="#111" stroke-width="1.1"/>
<circle cx="381.02" cy="274.70" r="2.35" fill="#fff" stroke="#111" stroke-width="1.1"/>
<circle cx="400.65" cy="271.90" r="2.35" fill="#fff" stroke="#111" stroke-width="1.1"/>
<circle cx="420.28" cy="277.70" r="2.35" fill="#fff" stroke="#111" stroke-width="1.1"/>
<circle cx="439.91" cy="276.80" r="2.35" fill="#fff" stroke="#111" stroke-width="1.1"/>
<circle cx="459.54" cy="276.80" r="2.35" fill="#fff" stroke="#111" stroke-width="1.1"/>
<circle cx="479.17" cy="277.70" r="2.35" fill="#fff" stroke="#111" stroke-width="1.1"/>
<circle cx="498.80" cy="278.40" r="2.35" fill="#fff" stroke="#111" stroke-width="1.1"/>
<rect x="299.90" y="286.40" width="5.2" height="5.2" fill="#111"/>
<rect x="319.53" y="289.70" width="5.2" height="5.2" fill="#111"/>
<rect x="339.16" y="283.20" width="5.2" height="5.2" fill="#111"/>
<rect x="358.79" y="281.20" width="5.2" height="5.2" fill="#111"/>
<rect x="378.42" y="283.30" width="5.2" height="5.2" fill="#111"/>
<rect x="398.05" y="280.70" width="5.2" height="5.2" fill="#111"/>
<rect x="417.68" y="282.20" width="5.2" height="5.2" fill="#111"/>
<rect x="437.31" y="280.10" width="5.2" height="5.2" fill="#111"/>
<rect x="456.94" y="280.70" width="5.2" height="5.2" fill="#111"/>
<rect x="476.57" y="291.40" width="5.2" height="5.2" fill="#111"/>
<rect x="496.20" y="290.40" width="5.2" height="5.2" fill="#111"/>
<text x="0.30" y="9.90" font-size="10" font-weight="bold" text-anchor="start" >Forearm blood flow</text>
<text x="96.40" y="9.90" font-size="10" font-weight="normal" text-anchor="start" >mL x min</text>
<rect x="137.2" y="5.35" width="2.5" height="1.0" fill="#111"/>
<path transform="translate(140.50,7.80) scale(9,9.000)" d="M0.345 0L0.345 -0.716L0.272 -0.716C0.25 -0.645 0.18 -0.6 0.09 -0.592L0.09 -0.528C0.16 -0.532 0.22 -0.555 0.25 -0.585L0.25 0Z" fill="#111" stroke="#111" stroke-width="0.0244"/>
<text x="148.80" y="9.90" font-size="10" font-weight="normal" text-anchor="start" >x L tissue</text>
<rect x="191.4" y="4.90" width="2.4" height="1.0" fill="#111"/>
<path transform="translate(194.60,7.80) scale(9,9.000)" d="M0.345 0L0.345 -0.716L0.272 -0.716C0.25 -0.645 0.18 -0.6 0.09 -0.592L0.09 -0.528C0.16 -0.532 0.22 -0.555 0.25 -0.585L0.25 0Z" fill="#111" stroke="#111" stroke-width="0.0244"/>
<text x="0.30" y="213.60" font-size="10" font-weight="bold" text-anchor="start" >Forearm blood flow</text>
<text x="96.40" y="213.60" font-size="10" font-weight="normal" text-anchor="start" >mL x min</text>
<rect x="137.2" y="209.05" width="2.5" height="1.0" fill="#111"/>
<path transform="translate(140.50,211.50) scale(9,9.000)" d="M0.345 0L0.345 -0.716L0.272 -0.716C0.25 -0.645 0.18 -0.6 0.09 -0.592L0.09 -0.528C0.16 -0.532 0.22 -0.555 0.25 -0.585L0.25 0Z" fill="#111" stroke="#111" stroke-width="0.0244"/>
<text x="148.80" y="213.60" font-size="10" font-weight="normal" text-anchor="start" >x L tissue</text>
<rect x="191.4" y="208.60" width="2.4" height="1.0" fill="#111"/>
<path transform="translate(194.60,211.50) scale(9,9.000)" d="M0.345 0L0.345 -0.716L0.272 -0.716C0.25 -0.645 0.18 -0.6 0.09 -0.592L0.09 -0.528C0.16 -0.532 0.22 -0.555 0.25 -0.585L0.25 0Z" fill="#111" stroke="#111" stroke-width="0.0244"/>
<text x="271.40" y="9.90" font-size="10" font-weight="bold" text-anchor="start" >Heart rate</text>
<text x="320.30" y="9.90" font-size="10" font-weight="normal" text-anchor="start" word-spacing="0.85">beats per min</text>
<text x="271.20" y="213.60" font-size="10" font-weight="bold" text-anchor="start" >Mean intraarterial pressure</text>
<text x="403.00" y="213.60" font-size="10" font-weight="normal" text-anchor="start" >mm Hg</text>
<text x="51.00" y="45.60" font-size="10" font-weight="normal" text-anchor="start" >Infusion arm</text>
<text x="51.20" y="248.90" font-size="10.25" font-weight="normal" text-anchor="start" >Control arm</text>
<circle cx="479.6" cy="18.5" r="2.2" fill="#fff" stroke="#111" stroke-width="1.1"/>
<rect x="477.5" y="28.0" width="5" height="4.8" fill="#111"/>
<text x="489.40" y="20.60" font-size="8.7" font-weight="normal" text-anchor="start" >Placebo</text>
<text x="489.30" y="32.60" font-size="8.6" font-weight="normal" text-anchor="start" >DDAVP</text>
</svg>
</body></html>
